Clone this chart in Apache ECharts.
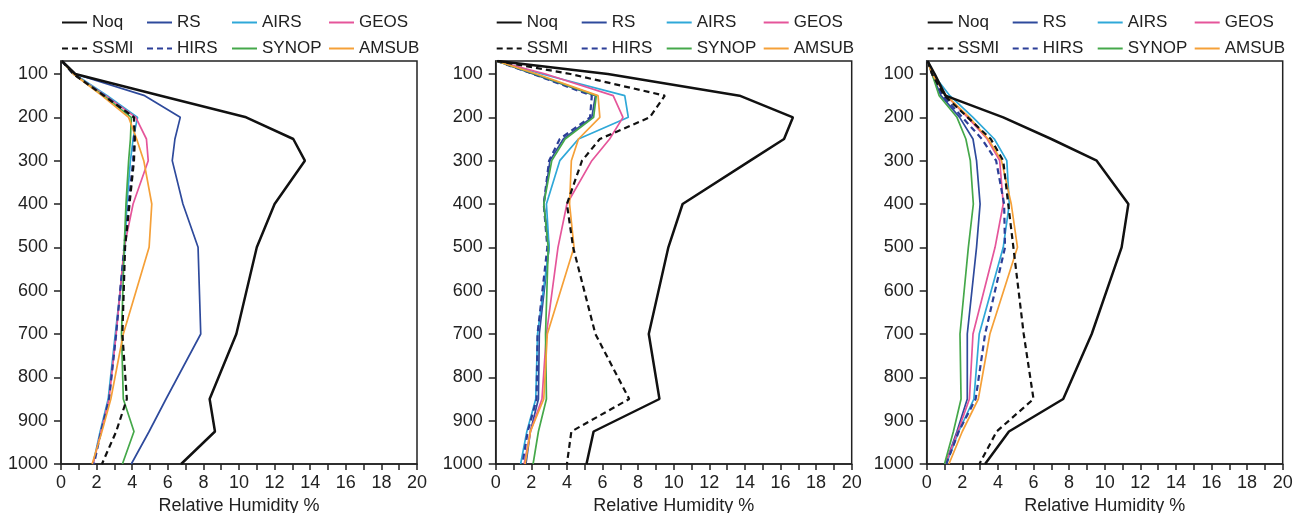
<!DOCTYPE html>
<html>
<head>
<meta charset="utf-8">
<script src="https://cdn.jsdelivr.net/npm/echarts@6/dist/echarts.min.js"></script>
<style>
  html, body { margin: 0; padding: 0; background: #fff; }
  #chart { width: 1306px; height: 513px; }
</style>
</head>
<body>
<div id="chart"></div>
<script>
// Pressure levels (hPa) of each profile point
const levels = [70, 100, 150, 200, 250, 300, 400, 500, 700, 850, 925, 1000];
const pressureTicks = [100, 200, 300, 400, 500, 600, 700, 800, 900, 1000];
const seriesNames = ['Noq', 'RS', 'AIRS', 'GEOS', 'SSMI', 'HIRS', 'SYNOP', 'AMSUB'];

// Left panel: relative humidity (%) at each level
const p1Noq   = [0.05, 0.8, 5.6, 10.4, 13.05, 13.7, 12.0, 11.0, 9.85, 8.35, 8.65, 6.75];
const p1RS    = [0.05, 0.8, 4.7, 6.7, 6.4, 6.25, 6.85, 7.7, 7.85, 5.9, 4.95, 3.95];
const p1AIRS  = [0.05, 0.75, 2.6, 4.3, 4.05, 3.9, 3.7, 3.6, 3.05, 2.65, 2.2, 1.8];
const p1GEOS  = [0.05, 0.7, 2.5, 4.2, 4.8, 4.9, 4.05, 3.55, 3.1, 2.7, 2.25, 1.8];
const p1SSMI  = [0.05, 0.7, 2.4, 4.1, 4.15, 4.1, 3.85, 3.6, 3.45, 3.7, 3.1, 2.3];
const p1HIRS  = [0.05, 0.7, 2.45, 4.1, 4.1, 4.05, 3.8, 3.55, 3.1, 2.7, 2.25, 1.85];
const p1SYNOP = [0.05, 0.7, 2.4, 3.95, 3.9, 3.8, 3.65, 3.55, 3.4, 3.5, 4.1, 3.45];
const p1AMSUB = [0.05, 0.7, 2.3, 3.8, 4.25, 4.65, 5.1, 4.95, 3.5, 2.8, 2.3, 1.75];

// Middle panel
const p2Noq   = [0.1, 6.3, 13.7, 16.7, 16.2, 14.3, 10.5, 9.7, 8.6, 9.2, 5.5, 5.1];
const p2RS    = [0.05, 2.1, 5.6, 5.4, 3.8, 3.05, 2.7, 3.0, 2.45, 2.4, 1.95, 1.7];
const p2AIRS  = [0.05, 2.6, 7.25, 7.45, 4.65, 3.6, 2.85, 3.0, 2.35, 2.25, 1.75, 1.4];
const p2GEOS  = [0.05, 2.8, 6.6, 7.15, 6.4, 5.4, 4.0, 3.5, 2.85, 2.6, 1.95, 1.6];
const p2SSMI  = [0.05, 4.2, 9.5, 8.65, 5.85, 4.85, 4.0, 4.35, 5.6, 7.5, 4.25, 4.0];
const p2HIRS  = [0.05, 2.1, 5.4, 5.3, 3.6, 3.0, 2.7, 2.9, 2.35, 2.3, 1.8, 1.5];
const p2SYNOP = [0.05, 2.2, 5.65, 5.5, 3.9, 3.15, 2.7, 2.95, 2.8, 2.85, 2.4, 2.1];
const p2AMSUB = [0.05, 2.3, 5.75, 5.85, 4.65, 4.25, 4.15, 4.4, 2.9, 2.7, 1.95, 1.65];

// Right panel
const p3Noq   = [0.05, 0.45, 1.05, 4.3, 7.0, 9.55, 11.33, 10.95, 9.27, 7.67, 4.62, 3.28];
const p3RS    = [0.05, 0.3, 0.8, 1.85, 2.6, 2.8, 3.0, 2.8, 2.28, 2.28, 1.7, 1.05];
const p3AIRS  = [0.05, 0.35, 1.3, 2.6, 3.8, 4.5, 4.64, 4.3, 2.95, 2.65, 1.8, 1.1];
const p3GEOS  = [0.05, 0.3, 1.1, 2.3, 3.4, 4.1, 4.3, 3.84, 2.6, 2.4, 1.75, 1.05];
const p3SSMI  = [0.05, 0.3, 1.0, 2.3, 3.6, 4.3, 4.58, 4.87, 5.45, 6.0, 3.93, 2.96];
const p3HIRS  = [0.05, 0.3, 0.9, 2.0, 3.1, 3.9, 4.35, 4.4, 3.28, 2.75, 1.8, 1.1];
const p3SYNOP = [0.05, 0.3, 0.7, 1.7, 2.2, 2.45, 2.62, 2.34, 1.87, 1.93, 1.5, 1.0];
const p3AMSUB = [0.05, 0.3, 1.1, 2.4, 3.45, 4.2, 4.75, 5.1, 3.55, 2.9, 2.0, 1.25];

const panels = [
  [p1Noq, p1RS, p1AIRS, p1GEOS, p1SSMI, p1HIRS, p1SYNOP, p1AMSUB],
  [p2Noq, p2RS, p2AIRS, p2GEOS, p2SSMI, p2HIRS, p2SYNOP, p2AMSUB],
  [p3Noq, p3RS, p3AIRS, p3GEOS, p3SSMI, p3HIRS, p3SYNOP, p3AMSUB]
];

// Line styles per data source
const styles = {
  Noq:   { color: '#111111', width: 2.5, type: 'solid' },
  RS:    { color: '#2e4a9c', width: 1.7, type: 'solid' },
  AIRS:  { color: '#2fa8d8', width: 1.7, type: 'solid' },
  GEOS:  { color: '#e5559a', width: 1.7, type: 'solid' },
  SSMI:  { color: '#111111', width: 2.2, type: [6, 4] },
  HIRS:  { color: '#2c3f98', width: 2.2, type: [6, 4] },
  SYNOP: { color: '#45a84a', width: 1.7, type: 'solid' },
  AMSUB: { color: '#f5a038', width: 1.7, type: 'solid' }
};

const FONT = 'Liberation Sans';
const INK = '#222';
const gridLefts = [61, 495.7, 926.7];
const gridWidth = 356;
const gridTop = 61;
const gridHeight = 403;

// Legend layout: two rows of four entries above each panel
const legendRows = [['Noq', 'RS', 'AIRS', 'GEOS'], ['SSMI', 'HIRS', 'SYNOP', 'AMSUB']];
const legendCols = [0, 85, 170, 267];
const legendTops = [14, 40];

const grids = [], xAxes = [], yAxes = [], series = [], legends = [];

gridLefts.forEach((left, gi) => {
  grids.push({
    left: left, width: gridWidth, top: gridTop, height: gridHeight,
    outerBoundsMode: 'none', containLabel: false,
    show: true, borderColor: INK, borderWidth: 1.5, backgroundColor: 'transparent'
  });
  xAxes.push({
    type: 'value', gridIndex: gi, min: 0, max: 20, interval: 2,
    name: 'Relative Humidity %', nameLocation: 'middle', nameGap: 28,
    nameTextStyle: { fontFamily: FONT, fontSize: 18, color: INK },
    axisLine: { show: true, lineStyle: { color: INK, width: 1.5 } },
    axisTick: { show: true, length: 6, lineStyle: { color: INK, width: 1.5 } },
    minorTick: { show: true, splitNumber: 2, length: 6, lineStyle: { color: INK, width: 1.5 } },
    splitLine: { show: false },
    minorSplitLine: { show: false },
    axisLabel: { fontFamily: FONT, fontSize: 18, color: INK, margin: 10 }
  });
  yAxes.push({
    type: 'value', gridIndex: gi, min: 70, max: 1000, inverse: true,
    axisLine: { show: true, lineStyle: { color: INK, width: 1.5 } },
    axisTick: { show: true, length: 7, customValues: pressureTicks, lineStyle: { color: INK, width: 1.5 } },
    axisLabel: {
      customValues: pressureTicks, fontFamily: FONT, fontSize: 18, color: INK, margin: 13,
      formatter: v => String(v)
    },
    splitLine: { show: false }
  });
  seriesNames.forEach((name, si) => {
    const vals = panels[gi][si];
    const st = styles[name];
    series.push({
      name: name, type: 'line', xAxisIndex: gi, yAxisIndex: gi,
      data: levels.map((p, k) => [vals[k], p]),
      symbol: 'none', silent: true, animation: false,
      color: st.color,
      lineStyle: { color: st.color, width: st.width, type: st.type },
      z: name === 'Noq' || name === 'SSMI' ? 3 : 2
    });
  });
  legendRows.forEach((row, ri) => {
    row.forEach((name, ci) => {
      legends.push({
        data: [name], left: left + legendCols[ci], top: legendTops[ri],
        padding: 0, itemWidth: 25, itemHeight: 14, selectedMode: false,
        itemStyle: { opacity: 0 },
        textStyle: { fontFamily: FONT, fontSize: 17, color: INK }
      });
    });
  });
});

const chart = echarts.init(document.getElementById('chart'), null, { renderer: 'canvas' });
chart.setOption({
  backgroundColor: '#fff',
  animation: false,
  grid: grids,
  xAxis: xAxes,
  yAxis: yAxes,
  legend: legends,
  series: series
});
</script>
</body>
</html>
